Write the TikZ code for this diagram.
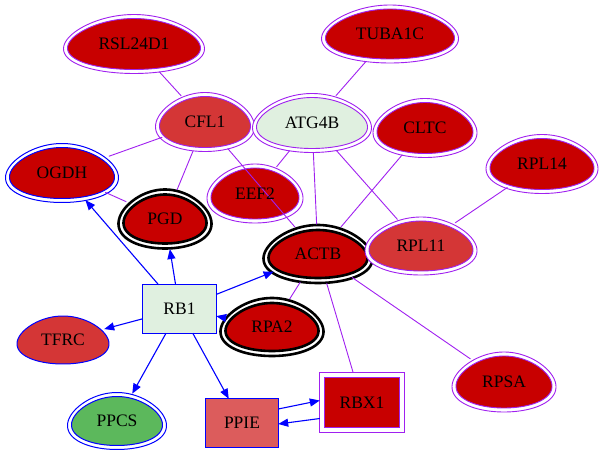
\documentclass[tikz,border=0pt]{standalone}
\usepackage{fontspec}
\setmainfont{Liberation Serif}
\usetikzlibrary{shapes.geometric,arrows.meta}
\definecolor{gvred}{HTML}{C80000}
\definecolor{midred}{HTML}{D43636}
\definecolor{palegreen}{HTML}{E0F0E0}
\definecolor{gvgreen}{HTML}{5CB85C}
\definecolor{pinkred}{HTML}{DC5C5C}
\definecolor{gvpurple}{HTML}{A020F0}
\definecolor{gvblue}{HTML}{0000FF}
% egg outline around a node: #1 node, #2 width, #3 height
\newcommand\eggline[3]{plot[variable=\t,domain=0:356,samples=90,shift={(#1.center)}]
  ({(#2)/2*cos(\t)*(1-0.17*sin(\t))/1.014},{(#3)/2*sin(\t)}) -- cycle}
% double-periphery egg: #1 node, #2 w, #3 h, #4 fill, #5 line colour, #6 line width, #7 gap
\newcommand\eggtwo[7]{%
  \draw[#5,line width=#6,fill=white] \eggline{#1}{#2}{#3};
  \draw[#5,line width=#6,fill=#4] \eggline{#1}{#2-#7}{#3-#7};}
\newcommand\eggone[5]{%
  \draw[#5,line width=1pt,fill=#4] \eggline{#1}{#2}{#3};}
\tikzset{
  gnode/.style={ellipse,draw=none,inner sep=0pt,font=\fontsize{17.5}{20}\selectfont},
  boxnode/.style={rectangle,inner sep=0pt,font=\fontsize{17.5}{20}\selectfont},
  ppi/.style={gvpurple,line width=0.9pt},
  reg/.style={gvblue,line width=1.1pt,-{Triangle[length=10pt,width=8pt]}}
}
\begin{document}
\begin{tikzpicture}[x=1pt,y=1pt]
\path[use as bounding box] (0,0) rectangle (604,-458);
% node anchors
\node[gnode,minimum width=141,minimum height=59] (RSL24D1) at (134,-44) {};
\node[gnode,minimum width=137,minimum height=58] (TUBA1C) at (390,-34) {};
\node[gnode,minimum width=99,minimum height=59] (CFL1) at (205,-122) {};
\node[gnode,minimum width=119,minimum height=59] (ATG4B) at (312,-123) {};
\node[gnode,minimum width=104,minimum height=59] (CLTC) at (425,-128) {};
\node[gnode,minimum width=112,minimum height=59] (RPL14) at (542,-164) {};
\node[gnode,minimum width=113,minimum height=59] (OGDH) at (62,-173) {};
\node[gnode,minimum width=96,minimum height=59] (EEF2) at (255,-193.5) {};
\node[gnode,minimum width=94,minimum height=60] (PGD) at (165,-219) {};
\node[gnode,minimum width=110,minimum height=59] (ACTB) at (318,-254) {};
\node[gnode,minimum width=112,minimum height=58] (RPL11) at (421,-246) {};
\node[gnode,minimum width=104,minimum height=59] (RPA2) at (272,-327) {};
\node[gnode,minimum width=92,minimum height=48] (TFRC) at (63,-340) {};
\node[gnode,minimum width=99,minimum height=57] (PPCS) at (117,-421) {};
\node[gnode,minimum width=104,minimum height=60] (RPSA) at (504,-382) {};
\node[boxnode,minimum width=73,minimum height=48] (RB1) at (179.5,-309) {};
\node[boxnode,minimum width=72,minimum height=48] (PPIE) at (242,-423) {};
\node[boxnode,minimum width=84,minimum height=59] (RBX1) at (362,-402.5) {};
% shapes
\eggtwo{RSL24D1}{141}{59}{gvred}{gvpurple}{0.9pt}{8}
\eggtwo{TUBA1C}{137}{58}{gvred}{gvpurple}{0.9pt}{8}
\eggtwo{CFL1}{99}{59}{midred}{gvpurple}{0.9pt}{8}
\eggtwo{ATG4B}{119}{59}{palegreen}{gvpurple}{0.9pt}{8}
\eggtwo{CLTC}{104}{59}{gvred}{gvpurple}{0.9pt}{8}
\eggtwo{RPL14}{112}{59}{gvred}{gvpurple}{0.9pt}{8}
\eggtwo{OGDH}{113}{59}{gvred}{gvblue}{1pt}{8}
\eggtwo{EEF2}{96}{59}{gvred}{gvpurple}{0.9pt}{8}
\eggtwo{PGD}{93}{59}{gvred}{black}{2.6pt}{10}
\eggtwo{ACTB}{109}{58}{gvred}{black}{2.6pt}{10}
\eggtwo{RPL11}{112}{58}{midred}{gvpurple}{0.9pt}{8}
\eggtwo{RPA2}{103}{58}{gvred}{black}{2.6pt}{10}
\eggone{TFRC}{92}{48}{midred}{gvblue}
\eggtwo{PPCS}{99}{57}{gvgreen}{gvblue}{1pt}{8}
\eggtwo{RPSA}{104}{60}{gvred}{gvpurple}{0.9pt}{8}
\draw[gvblue,line width=1pt,fill=palegreen] (RB1.south west) rectangle (RB1.north east);
\draw[gvblue,line width=1pt,fill=pinkred] (PPIE.south west) rectangle (PPIE.north east);
\draw[gvpurple,line width=0.9pt] (RBX1.south west) rectangle (RBX1.north east);
\draw[gvpurple,line width=0.9pt,fill=gvred] ([shift={(5,5)}]RBX1.south west) rectangle ([shift={(-5,-5)}]RBX1.north east);
% edges
\draw[ppi] (RSL24D1) -- (CFL1);
\draw[ppi] (TUBA1C) -- (ATG4B);
\draw[ppi] (CFL1) -- (OGDH);
\draw[ppi] (CFL1) -- (PGD);
\draw[ppi] (CFL1) -- (ACTB);
\draw[ppi] (ATG4B) -- (EEF2);
\draw[ppi] (ATG4B) -- (ACTB);
\draw[ppi] (ATG4B) -- (RPL11);
\draw[ppi] (CLTC) -- (ACTB);
\draw[ppi] (RPL14) -- (RPL11);
\draw[ppi] (OGDH) -- (PGD);
\draw[ppi] (ACTB) -- (RPA2);
\draw[ppi] (ACTB) -- (RBX1);
\draw[ppi] (ACTB) -- (RPSA);
\draw[reg] (RB1) -- (OGDH);
\draw[reg] (RB1) -- (PGD);
\draw[reg] (RB1) -- (ACTB);
\draw[reg] (RPA2) -- (RB1);
\draw[reg] (RB1) -- (TFRC);
\draw[reg] (RB1) -- (PPCS);
\draw[reg] (RB1) -- (PPIE);
\draw[reg] ([yshift=14pt]PPIE.east) -- ([yshift=2pt]RBX1.west);
\draw[reg] ([yshift=-16pt]RBX1.west) -- ([yshift=-1pt]PPIE.east);
% labels
\foreach \n in {RSL24D1,TUBA1C,CFL1,ATG4B,CLTC,RPL14,OGDH,EEF2,PGD,ACTB,RPL11,RPA2,TFRC,PPCS,RPSA,RB1,PPIE,RBX1}
  \node[font=\fontsize{17.5}{20}\selectfont,inner sep=0pt] at (\n.center) {\n};
\end{tikzpicture}
\end{document}
